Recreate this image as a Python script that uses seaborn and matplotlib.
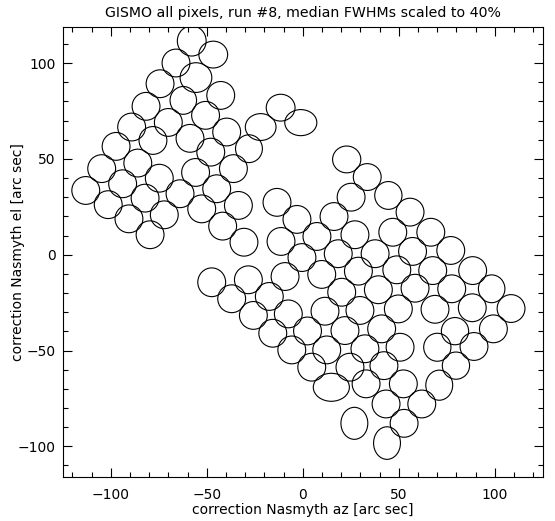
import matplotlib

matplotlib.use("Agg")

import seaborn as sns
import matplotlib.pyplot as plt
from matplotlib.patches import Ellipse
from matplotlib.ticker import MultipleLocator


# beam centres (correction Nasmyth az / el, arc sec) and scaled FWHMs
az = [
    -57.8, -46.6, -66.0, -55.6, -74.3, -42.7, -62.2, -81.6, -50.6, -70.0,
    -89.1, -39.6, -58.7, -78.0, -97.2, -47.9, -104.7, -85.9, -55.8, -36.1,
    -74.7, -113.0, -93.8, -44.8, -63.9, -82.1, -101.3, -72.1, -52.6, -33.5,
    -90.5, -41.7, -79.5, -30.6, -28.0, -21.9, -11.5, -1.0,
    22.9, 33.6, 25.2, 44.6, 55.9, -13.4, -3.0, 16.3, 7.4, 27.2,
    46.9, 66.7, -11.3, -0.4, 18.5, 37.7, 57.2, 77.1, 67.7, 88.5,
    9.9, 29.0, 49.0, -9.2, -28.3, -47.4, -37.0, -17.4, 20.3, 39.4,
    58.5, 77.6, 98.4, -25.7, -7.5, 11.6, 29.8, 49.8, 68.9, 88.3,
    108.5, -15.6, 2.5, 22.0, 41.1, 79.3, 99.3, -5.7, 12.5, 32.4,
    50.7, 70.1, 89.2, 4.7, 24.6, 42.3, 79.8, 14.9, 33.0, 52.4,
    71.1, 43.4, 62.0, 26.9, 52.8, 43.9,
]
el = [
    111.5, 104.4, 100.0, 92.4, 89.2, 83.1, 80.5, 77.4, 72.7, 69.0,
    66.6, 64.0, 60.7, 59.6, 56.5, 53.5, 44.9, 47.8, 42.9, 44.9,
    39.9, 33.5, 37.0, 34.4, 31.8, 29.5, 26.1, 20.8, 23.9, 25.7,
    18.7, 14.9, 10.4, 6.5, 55.3, 66.6, 76.7, 68.9,
    49.7, 40.5, 30.0, 30.9, 22.2, 27.3, 18.4, 19.9, 9.5, 10.4,
    11.7, 11.7, 6.9, -1.5, 0.5, 0.5, 1.7, 2.2, -8.3, -8.3,
    -10.3, -8.6, -7.9, -11.4, -13.1, -14.4, -23.0, -21.8, -19.6, -18.3,
    -17.5, -17.8, -17.8, -31.7, -30.9, -29.5, -29.1, -28.3, -28.5, -27.7,
    -28.1, -41.0, -39.8, -39.6, -38.7, -39.9, -38.7, -49.7, -49.7, -49.1,
    -48.3, -48.3, -47.9, -58.7, -58.7, -57.9, -57.9, -69.2, -67.4, -67.4,
    -68.1, -77.9, -77.9, -88.0, -88.0, -98.3,
]
fwhm_az = [
    15.0, 15.0, 14.5, 16.5, 14.5, 14.5, 13.8, 14.5, 14.5, 14.5,
    14.5, 14.5, 14.5, 14.5, 14.5, 14.5, 14.5, 14.5, 14.5, 14.5,
    14.5, 14.5, 14.5, 14.5, 14.5, 14.5, 14.5, 14.5, 14.5, 14.5,
    14.5, 14.5, 14.5, 14.5, 14.0, 16.0, 15.0, 16.7,
    14.7, 14.5, 14.5, 14.2, 14.5, 14.5, 14.5, 14.5, 14.5, 14.5,
    14.5, 14.5, 14.5, 14.5, 14.5, 14.5, 14.5, 14.5, 14.5, 14.5,
    14.5, 14.5, 14.5, 14.5, 14.5, 14.5, 14.5, 14.5, 14.5, 14.5,
    14.5, 14.5, 13.8, 14.5, 14.5, 14.5, 14.5, 14.5, 14.5, 14.5,
    14.5, 14.5, 14.5, 14.5, 14.5, 14.2, 14.5, 14.5, 14.5, 14.5,
    14.5, 14.2, 14.5, 14.5, 14.5, 14.5, 14.2, 18.8, 14.5, 14.5,
    14.0, 14.5, 14.5, 14.0, 14.5, 14.0,
]
fwhm_el = [
    15.7, 14.0, 14.5, 15.5, 14.5, 14.5, 14.5, 14.5, 14.5, 14.5,
    14.5, 14.5, 14.5, 14.5, 14.5, 14.5, 14.5, 14.5, 14.5, 14.5,
    14.5, 14.5, 14.5, 14.5, 14.5, 14.5, 14.5, 14.5, 14.5, 14.5,
    14.5, 14.5, 14.5, 14.5, 14.5, 14.0, 14.0, 13.6,
    14.0, 14.0, 14.5, 14.5, 14.5, 14.5, 14.5, 14.5, 14.5, 14.5,
    14.5, 14.5, 14.5, 14.5, 14.5, 14.5, 14.5, 14.5, 14.5, 14.5,
    14.5, 14.5, 14.5, 14.5, 14.5, 15.0, 14.5, 14.5, 14.5, 14.5,
    14.5, 14.5, 14.5, 14.5, 14.5, 14.5, 14.5, 14.5, 14.5, 14.5,
    14.5, 14.5, 14.5, 14.5, 14.5, 14.2, 14.5, 14.5, 14.5, 14.5,
    14.5, 14.6, 14.5, 14.5, 14.5, 14.5, 14.2, 14.6, 14.5, 14.5,
    15.7, 14.5, 14.5, 16.7, 14.5, 17.0,
]

X_LIMITS = (-125, 125)
Y_LIMITS = (-115.8, 118.8)

sns.set_theme(style="ticks", rc={
    "axes.linewidth": 0.8,
    "axes.edgecolor": "black",
    "axes.labelcolor": "black",
    "text.color": "black",
    "xtick.color": "black",
    "ytick.color": "black",
    "xtick.direction": "in",
    "ytick.direction": "in",
    "xtick.top": True,
    "ytick.right": True,
    "xtick.major.size": 6.8,
    "ytick.major.size": 6.8,
    "xtick.minor.size": 3.3,
    "ytick.minor.size": 3.3,
    "xtick.major.width": 0.8,
    "ytick.major.width": 0.8,
    "xtick.minor.width": 0.8,
    "ytick.minor.width": 0.8,
    "xtick.minor.visible": True,
    "ytick.minor.visible": True,
})
plt.rcParams["font.family"] = ["DejaVu Sans"]

fig = plt.figure(figsize=(5.55, 5.21), dpi=100)
ax = fig.add_axes([0.113, 0.0852, 0.8649, 0.8630])

for x, y, w, h in zip(az, el, fwhm_az, fwhm_el):
    ax.add_patch(Ellipse((x, y), w, h, fill=False, edgecolor="black", linewidth=0.8))

ax.set_xlim(*X_LIMITS)
ax.set_ylim(*Y_LIMITS)
ax.xaxis.set_major_locator(MultipleLocator(50))
ax.xaxis.set_minor_locator(MultipleLocator(10))
ax.yaxis.set_major_locator(MultipleLocator(50))
ax.yaxis.set_minor_locator(MultipleLocator(10))
ax.tick_params(axis="x", which="both", pad=8, labelsize=10)
ax.tick_params(axis="y", which="both", pad=5, labelsize=10)

ax.set_title("GISMO all pixels, run #8, median FWHMs scaled to 40%", fontsize=10.2, pad=7.5)
ax.set_xlabel("correction Nasmyth az [arc sec]", fontsize=10, labelpad=1)
ax.set_ylabel("correction Nasmyth el [arc sec]", fontsize=10)
ax.yaxis.set_label_coords(-0.078, 0.5)

fig.savefig("out.png", dpi=100)
plt.close(fig)
